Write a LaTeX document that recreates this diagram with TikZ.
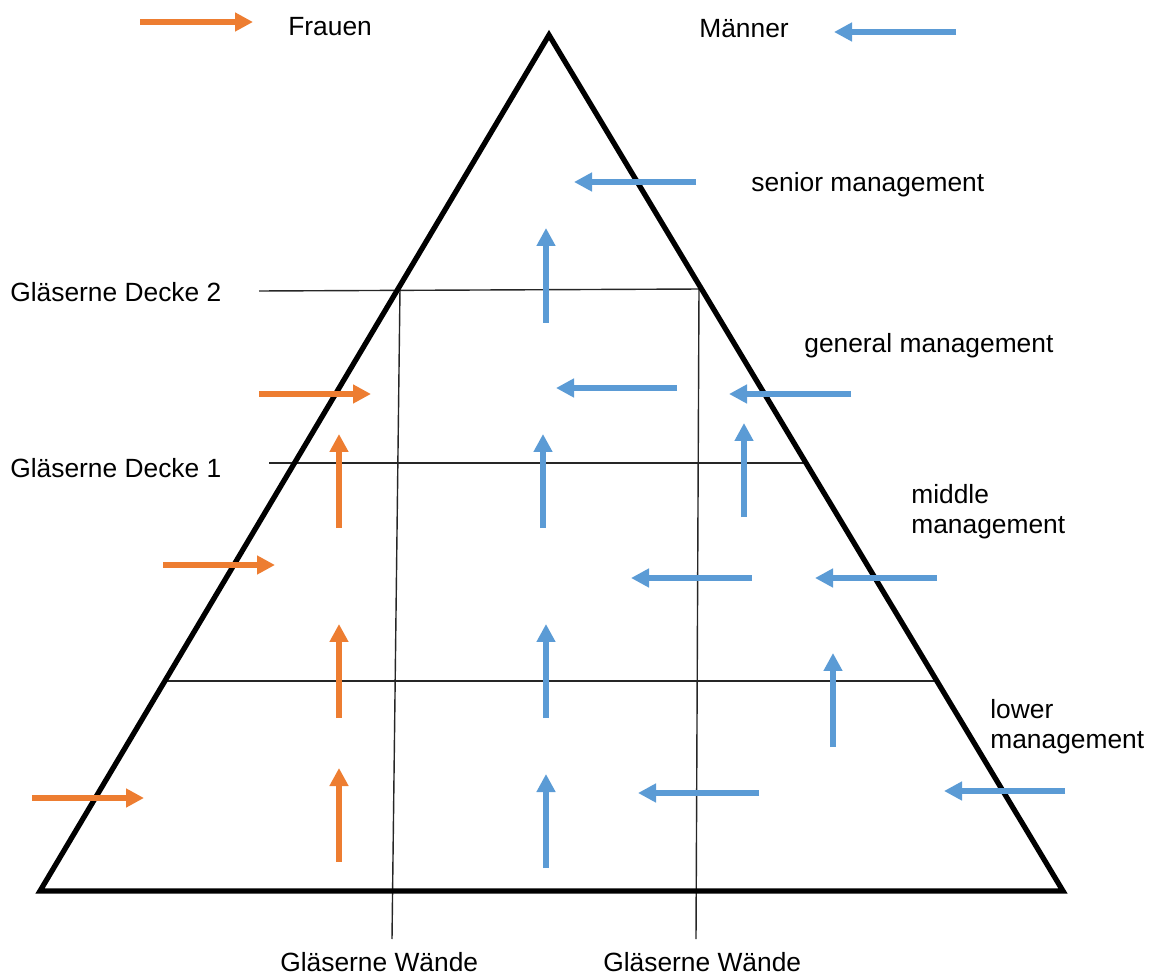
\documentclass[tikz,border=0pt]{standalone}
\usepackage{fontspec}
\setmainfont{Liberation Sans}
\usepackage{xcolor}
\usepackage{tikz}
\usetikzlibrary{arrows.meta}

\definecolor{frauorange}{HTML}{ED7D31}
\definecolor{mannblue}{HTML}{5B9BD5}

\begin{document}
\begin{tikzpicture}[x=0.02cm, y=-0.02cm,
        txt/.style={anchor=base west, inner sep=0pt, align=left,
            font=\fontsize{15}{17}\selectfont},
        glass/.style={draw=black!85, line width=0.8pt},
        frau/.style={draw=frauorange, line width=3.3pt,
            -{Triangle[length=0.36cm, width=0.36cm]}},
        mann/.style={draw=mannblue, line width=3.3pt,
            -{Triangle[length=0.36cm, width=0.36cm]}}]
    \useasboundingbox (0,0) rectangle (1153,976);

    % legend
    \node (frauen) [txt] at (288,36) {Frauen};
    \node (maenner) [txt] at (699,38) {Männer};
    \draw[frau] (140,22) -- (253,22);
    \draw[mann] (956,32) -- (834,32);

    % ceilings and walls
    \draw[glass] (259,291) -- (702,289);
    \draw[glass] (269,463) -- (806,463);
    \draw[glass] (166,681) -- (937,681);
    \draw[glass] (400,289) -- (392,939);
    \draw[glass] (699,289) -- (696,939);

    % pyramid
    \draw[line width=3pt, line join=miter] (549,35) -- (1063,891) -- (40,891) -- cycle;

    % labels (base of a two-line node is its last line)
    \node (decke2) [txt] at (10,302) {Gläserne Decke 2};
    \node (decke1) [txt] at (10,478) {Gläserne Decke 1};
    \node (senior) [txt] at (751,192) {senior management};
    \node (general) [txt] at (804,353) {general management};
    \node (middle) [txt] at (911,533) {middle\\management};
    \node (lower) [txt] at (990,748) {lower\\management};
    \node (wand1) [txt] at (280,971) {Gläserne Wände};
    \node (wand2) [txt] at (603,971) {Gläserne Wände};

    % women
    \draw[frau] (259,394) -- (371,394);
    \draw[frau] (163,565) -- (275,565);
    \draw[frau] (32,798) -- (144,798);
    \draw[frau] (339,528) -- (339,434);
    \draw[frau] (339,718) -- (339,624);
    \draw[frau] (339,862) -- (339,768);

    % men
    \draw[mann] (696,182) -- (574,182);
    \draw[mann] (546,323) -- (546,228);
    \draw[mann] (677,388) -- (556,388);
    \draw[mann] (851,394) -- (729,394);
    \draw[mann] (543,528) -- (543,434);
    \draw[mann] (744,517) -- (744,423);
    \draw[mann] (752,578) -- (631,578);
    \draw[mann] (937,578) -- (815,578);
    \draw[mann] (546,718) -- (546,624);
    \draw[mann] (833,747) -- (833,653);
    \draw[mann] (546,868) -- (546,774);
    \draw[mann] (759,793) -- (638,793);
    \draw[mann] (1065,791) -- (944,791);
\end{tikzpicture}
\end{document}
